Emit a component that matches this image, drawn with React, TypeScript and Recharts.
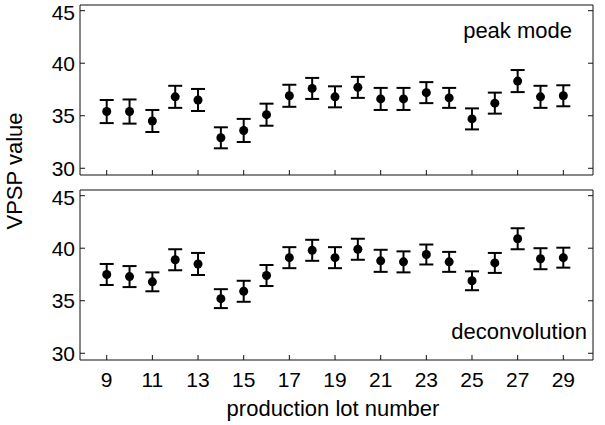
import React from "react";
import { ScatterChart, Scatter, XAxis, YAxis, ErrorBar } from "recharts";

const lots = [9, 10, 11, 12, 13, 14, 15, 16, 17, 18, 19, 20, 21, 22, 23, 24, 25, 26, 27, 28, 29];
const peakMode = [35.4, 35.4, 34.5, 36.8, 36.5, 32.9, 33.6, 35.1, 36.9, 37.6, 36.8, 37.7, 36.6, 36.6, 37.2, 36.7, 34.7, 36.2, 38.3, 36.8, 36.9];
const peakErr = [1.1, 1.15, 1.05, 1.05, 1.05, 1.0, 1.1, 1.05, 1.05, 1.0, 1.0, 1.0, 1.05, 1.05, 1.0, 0.95, 1.0, 1.0, 1.05, 1.05, 1.0];
const deconv = [37.5, 37.3, 36.8, 38.9, 38.5, 35.2, 35.9, 37.4, 39.1, 39.8, 39.1, 39.9, 38.8, 38.7, 39.4, 38.7, 36.9, 38.6, 40.9, 39.0, 39.1];
const deconvErr = [1.0, 1.0, 0.9, 1.0, 1.05, 0.9, 1.0, 1.0, 1.0, 1.0, 1.0, 1.0, 1.05, 1.0, 0.95, 0.95, 0.9, 0.95, 1.0, 1.0, 0.95];
const xTicks = [9, 11, 13, 15, 17, 19, 21, 23, 25, 27, 29];
const yTicks = [30, 35, 40, 45];

const font = '"Liberation Sans", Arial, sans-serif';
const tickStyle = { fill: "#000", fontSize: 21, fontFamily: font };
const xDomain = [7.83, 30.3];
const yDomain = [29.36, 45.54];

const Dot = (p: any) => <circle cx={p.cx} cy={p.cy} r={4.5} fill="#000" />;

function Panel({ values, errs, showX, height, margin }: { values: number[]; errs: number[]; showX: boolean; height: number; margin: any }) {
  const data = lots.map((lot, i) => ({ lot, v: values[i], err: errs[i] }));
  const blank = () => "";
  return (
    <ScatterChart width={605} height={height} margin={margin}>
      <XAxis xAxisId="b" dataKey="lot" type="number" domain={xDomain} ticks={xTicks} allowDataOverflow
        orientation="bottom" height={1} tickSize={-5} tickMargin={17} tick={tickStyle}
        tickFormatter={showX ? undefined : blank}
        axisLine={{ stroke: "#111" }} tickLine={{ stroke: "#111" }} />
      <XAxis xAxisId="t" type="number" domain={xDomain} ticks={xTicks} allowDataOverflow
        orientation="top" height={1} tickSize={-5} tickFormatter={blank}
        axisLine={{ stroke: "#111" }} tickLine={{ stroke: "#111" }} />
      <YAxis yAxisId="l" dataKey="v" type="number" domain={yDomain} ticks={yTicks} allowDataOverflow
        orientation="left" width={1} tickSize={-5} tickMargin={10} tick={tickStyle}
        axisLine={{ stroke: "#111" }} tickLine={{ stroke: "#111" }} />
      <YAxis yAxisId="r" type="number" domain={yDomain} ticks={yTicks} allowDataOverflow
        orientation="right" width={1} tickSize={-5} tickFormatter={blank}
        axisLine={{ stroke: "#111" }} tickLine={{ stroke: "#111" }} />
      <Scatter data={data} xAxisId="b" yAxisId="l" dataKey="v" shape={Dot} isAnimationActive={false}>
        <ErrorBar dataKey="err" direction="y" width={7} stroke="#000" strokeWidth={2} />
      </Scatter>
    </ScatterChart>
  );
}

export default function App() {
  const label: React.CSSProperties = { position: "absolute", fontFamily: font, fontSize: 22, color: "#000", whiteSpace: "nowrap", lineHeight: 1 };
  return (
    <div style={{ position: "absolute", left: 0, top: 0, width: 605, height: 425, background: "#fff" }}>
      <div style={{ position: "absolute", left: 0, top: 0 }}>
        <Panel values={peakMode} errs={peakErr} showX={false} height={185} margin={{ top: 4, right: 11, bottom: 9, left: 79 }} />
      </div>
      <div style={{ position: "absolute", left: 0, top: 185 }}>
        <Panel values={deconv} errs={deconvErr} showX={true} height={240} margin={{ top: 4, right: 11, bottom: 64, left: 79 }} />
      </div>
      <div style={{ ...label, right: 605 - 572, top: 20 }}>peak mode</div>
      <div style={{ ...label, right: 605 - 587, top: 321 }}>deconvolution</div>
      <div style={{ ...label, left: 333, top: 398, transform: "translateX(-50%)" }}>production lot number</div>
      <div style={{ ...label, left: 15, top: 171, transform: "translate(-50%, -50%) rotate(-90deg)" }}>VPSP value</div>
    </div>
  );
}
